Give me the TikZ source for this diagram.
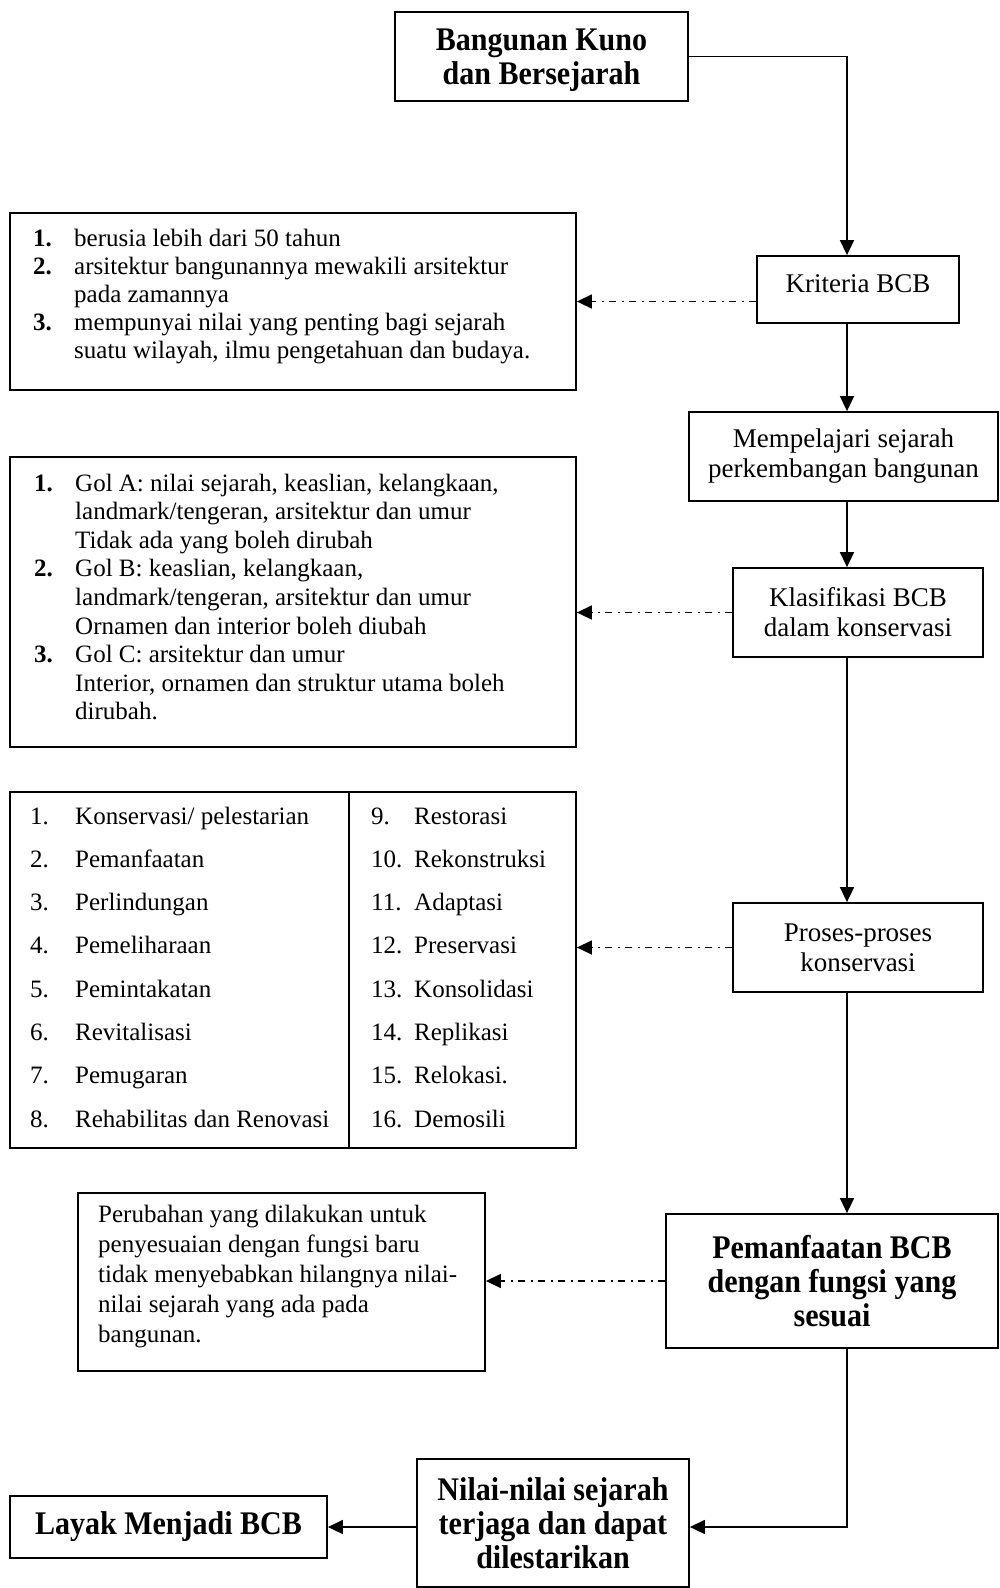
\documentclass[tikz,border=0pt]{standalone}
\usepackage{fontspec}
\setmainfont{Liberation Serif}
\newfontfamily\bcond{Liberation Serif}[FakeStretch=0.91]
\usetikzlibrary{arrows.meta}
\begin{document}
\begin{tikzpicture}[x=1pt,y=-1pt,
  box/.style={draw, line width=1.8pt, inner sep=0pt, align=center},
  rtext/.style={font={\fontsize{27}{30}\selectfont}},
  btext/.style={font={\bcond\bfseries\fontsize{33}{34}\selectfont}},
  ltext/.style={inner sep=0pt, anchor=base west},
  conn/.style={line width=1.6pt, -{Triangle[length=15pt,width=14pt]}},
  dconn/.style={line width=1.5pt, dash pattern=on 7pt off 5.5pt on 2pt off 5.5pt, -{Triangle[length=15pt,width=14pt]}}
]
\useasboundingbox (0,0) rectangle (999,1588);
\coordinate (sp) at (847,0);

% right column
\node[box, btext, minimum width=293pt, minimum height=89pt, text depth=-3pt] (top) at (541.5,56.5) {Bangunan Kuno\\dan Bersejarah};
\node[box, rtext, minimum width=202pt, minimum height=67pt, text depth=12pt] (krit) at (858,289.5) {Kriteria BCB};
\node[box, rtext, minimum width=309pt, minimum height=89pt] (memp) at (843.5,456.5) {Mempelajari sejarah\\perkembangan bangunan};
\node[box, rtext, minimum width=250pt, minimum height=89pt] (klas) at (858,612.5) {Klasifikasi BCB\\dalam konservasi};
\node[box, rtext, minimum width=250pt, minimum height=89pt] (pros) at (858,947.5) {Proses-proses\\konservasi};
\node[box, btext, minimum width=332pt, minimum height=134pt] (peman) at (832,1281) {Pemanfaatan BCB\\dengan fungsi yang\\sesuai};
\node[box, btext, minimum width=272pt, minimum height=128pt] (nilai) at (553,1523) {Nilai-nilai sejarah\\terjaga dan dapat\\dilestarikan};
\node[box, btext, minimum width=317pt, minimum height=62pt] (layak) at (168.5,1527) {Layak Menjadi BCB};

% left boxes
\node[box, minimum width=566pt, minimum height=177pt] (box1) at (293,301.5) {};
\node[ltext, font={\fontsize{25}{28}\selectfont}] (box1t) at (33,246) {\begin{tabular}[t]{@{}p{41pt}@{}l@{}}
\textbf{1.} & berusia lebih dari 50 tahun\\
\textbf{2.} & arsitektur bangunannya mewakili arsitektur\\
 & pada zamannya\\
\textbf{3.} & mempunyai nilai yang penting bagi sejarah\\
 & suatu wilayah, ilmu pengetahuan dan budaya.
\end{tabular}};

\node[box, minimum width=566pt, minimum height=290pt] (box2) at (293,602) {};
\node[ltext, font={\fontsize{25}{28.6}\selectfont}] (box2t) at (34,491) {\begin{tabular}[t]{@{}p{41pt}@{}l@{}}
\textbf{1.} & Gol A: nilai sejarah, keaslian, kelangkaan,\\
 & landmark/tengeran, arsitektur dan umur\\
 & Tidak ada yang boleh dirubah\\
\textbf{2.} & Gol B: keaslian, kelangkaan,\\
 & landmark/tengeran, arsitektur dan umur\\
 & Ornamen dan interior boleh diubah\\
\textbf{3.} & Gol C: arsitektur dan umur\\
 & Interior, ornamen dan struktur utama boleh\\
 & dirubah.
\end{tabular}};

\node[box, minimum width=339pt, minimum height=356pt] (tabL) at (179.5,970) {};
\node[box, minimum width=227pt, minimum height=356pt] (tabR) at (462.5,970) {};
\node[ltext, font={\fontsize{25}{43.3}\selectfont}] (tabLt) at (30,824) {\begin{tabular}[t]{@{}p{45pt}@{}l@{}}
1. & Konservasi/ pelestarian\\
2. & Pemanfaatan\\
3. & Perlindungan\\
4. & Pemeliharaan\\
5. & Pemintakatan\\
6. & Revitalisasi\\
7. & Pemugaran\\
8. & Rehabilitas dan Renovasi
\end{tabular}};
\node[ltext, font={\fontsize{25}{43.3}\selectfont}] (tabRt) at (371,824) {\begin{tabular}[t]{@{}p{43pt}@{}l@{}}
9. & Restorasi\\
10. & Rekonstruksi\\
11. & Adaptasi\\
12. & Preservasi\\
13. & Konsolidasi\\
14. & Replikasi\\
15. & Relokasi.\\
16. & Demosili
\end{tabular}};

\node[box, minimum width=407pt, minimum height=178pt] (box4) at (281.5,1282) {};
\node[ltext, font={\fontsize{25}{30.2}\selectfont}] (box4t) at (98,1222) {\begin{tabular}[t]{@{}l@{}}
Perubahan yang dilakukan untuk\\
penyesuaian dengan fungsi baru\\
tidak menyebabkan hilangnya nilai-\\
nilai sejarah yang ada pada\\
bangunan.
\end{tabular}};

% main connectors
\draw[conn] (top.east) -| (sp |- krit.north);
\draw[conn] (krit.south -| sp) -- (memp.north -| sp);
\draw[conn] (memp.south -| sp) -- (klas.north -| sp);
\draw[conn] (klas.south -| sp) -- (pros.north -| sp);
\draw[conn] (pros.south -| sp) -- (peman.north -| sp);
\draw[conn] (peman.south -| sp) |- (nilai.east |- layak.east);
\draw[conn] (layak.east -| nilai.west) -- (layak.east);

% dash-dot connectors
\draw[dconn] (krit.west |- box1.east) -- (box1.east);
\draw[dconn] (klas.west) -- (klas.west -| box2.east);
\draw[dconn] (pros.west) -- (pros.west -| tabR.east);
\draw[dconn] (peman.west) -- (peman.west -| box4.east);
\end{tikzpicture}
\end{document}
